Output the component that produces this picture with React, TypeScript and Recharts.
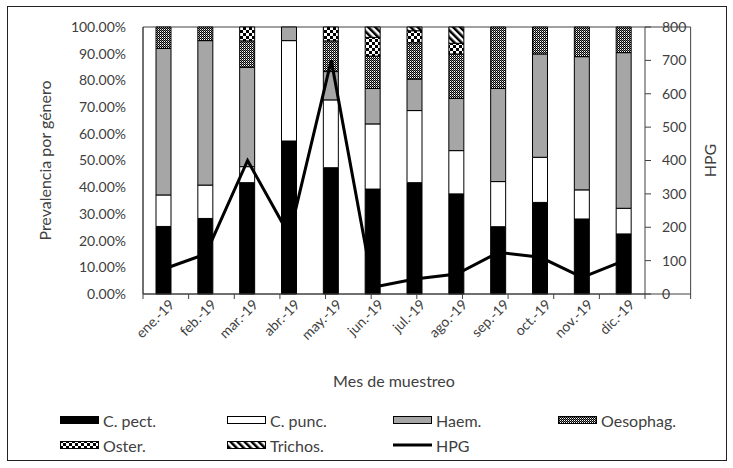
import React from 'react'
import {
  ComposedChart,
  Bar,
  Line,
  XAxis,
  YAxis,
  ReferenceArea,
} from 'recharts'

const meses = ['ene.-19', 'feb.-19', 'mar.-19', 'abr.-19', 'may.-19', 'jun.-19', 'jul.-19', 'ago.-19', 'sep.-19', 'oct.-19', 'nov.-19', 'dic.-19']
const cPect = [25.3, 28.3, 41.7, 57.3, 47.3, 39.3, 41.7, 37.5, 25.2, 34.3, 28.1, 22.5]
const cPunc = [11.8, 12.5, 6.0, 37.6, 25.4, 24.4, 27.0, 16.2, 16.9, 16.9, 10.9, 9.6]
const haem = [54.9, 54.1, 37.2, 5.1, 10.6, 13.3, 11.8, 19.6, 34.9, 38.7, 49.9, 58.3]
const oesophag = [8.0, 5.1, 9.9, 0, 11.5, 12.1, 13.6, 16.6, 23.0, 10.1, 11.1, 9.6]
const oster = [0, 0, 5.2, 0, 5.2, 7.0, 4.5, 4.0, 0, 0, 0, 0]
const trichos = [0, 0, 0, 0, 0, 3.9, 1.4, 6.1, 0, 0, 0, 0]
const hpg = [75, 120, 400, 175, 700, 20, 45, 60, 125, 110, 50, 100]

const pctTicks = [0, 10, 20, 30, 40, 50, 60, 70, 80, 90, 100]
const hpgTicks = [0, 100, 200, 300, 400, 500, 600, 700, 800]
const edgeTicks = [0, 1, 2, 3, 4, 5, 6, 7, 8, 9, 10, 11, 12]

const data = meses.map((mes, i) => ({
  mes,
  cPect: cPect[i],
  cPunc: cPunc[i],
  haem: haem[i],
  oesophag: oesophag[i],
  oster: oster[i],
  trichos: trichos[i],
  hpg: hpg[i],
}))

const FONT = 'Lato, "Noto Sans", sans-serif'
const TXT = '#404040'
const AX = '#404040'

function Patterns() {
  return (
    <svg width={0} height={0} style={{ position: 'absolute' }}>
      <defs>
        <pattern id="pOeso" width={2} height={2} patternUnits="userSpaceOnUse">
          <rect width={2} height={2} fill="#fff" />
          <rect x={0} y={0} width={1} height={1} fill="#000" />
          <rect x={1} y={1} width={1} height={1} fill="#000" />
          <rect x={1} y={0} width={1} height={1} fill="#777" />
        </pattern>
        <pattern id="pOster" width={6} height={6} patternUnits="userSpaceOnUse">
          <rect width={6} height={6} fill="#fff" />
          <rect x={0} y={0} width={3} height={3} fill="#000" />
          <rect x={3} y={3} width={3} height={3} fill="#000" />
        </pattern>
        <pattern id="pTrich" width={5} height={5} patternUnits="userSpaceOnUse" patternTransform="rotate(-45)">
          <rect width={5} height={5} fill="#fff" />
          <rect x={0} y={0} width={2.5} height={5} fill="#000" />
        </pattern>
      </defs>
    </svg>
  )
}

function MesTick({ x, y, payload }: any) {
  return (
    <text
      x={x + 8}
      y={y}
      transform={`rotate(-45, ${x + 8}, ${y})`}
      textAnchor="end"
      dy="0.35em"
      fontSize={14}
      fontFamily={FONT}
      fill={TXT}
    >
      {payload.value}
    </text>
  )
}

const legendItems = [
  { label: 'C. pect.', fill: '#000', x: 60, y: 420 },
  { label: 'C. punc.', fill: '#fff', x: 227, y: 420 },
  { label: 'Haem.', fill: '#a6a6a6', x: 393, y: 420 },
  { label: 'Oesophag.', fill: 'url(#pOeso)', x: 558, y: 420 },
  { label: 'Oster.', fill: 'url(#pOster)', x: 60, y: 445 },
  { label: 'Trichos.', fill: 'url(#pTrich)', x: 227, y: 445 },
  { label: 'HPG', fill: 'line', x: 393, y: 445 },
]

function Leyenda() {
  return (
    <>
      {legendItems.map((it) => (
        <div
          key={it.label}
          style={{
            position: 'absolute',
            left: it.x,
            top: it.y - 10,
            height: 20,
            display: 'flex',
            alignItems: 'center',
            fontFamily: FONT,
            fontSize: 16,
            color: TXT,
            whiteSpace: 'nowrap',
          }}
        >
          <svg width={40} height={10} style={{ marginRight: 3 }}>
            {it.fill === 'line' ? (
              <line x1={0} x2={39} y1={5} y2={5} stroke="#000" strokeWidth={3} />
            ) : (
              <rect x={0.5} y={1.5} width={38} height={7} fill={it.fill} stroke="#000" strokeWidth={1} />
            )}
          </svg>
          {it.label}
        </div>
      ))}
    </>
  )
}

export default function App() {
  return (
    <div style={{ position: 'relative', width: 733, height: 468, background: '#fff', overflow: 'hidden' }}>
      <style>{'body{margin:0}'}</style>
      <Patterns />
      <div
        style={{
          position: 'absolute',
          left: 7,
          top: 6,
          width: 720,
          height: 455,
          border: '1.5px solid #222',
          boxSizing: 'border-box',
        }}
      />
      <div style={{ position: 'absolute', left: 0, top: 0 }}>
        <ComposedChart
          width={733}
          height={468}
          data={data}
          margin={{ top: 27, right: 28, bottom: 114, left: 8 }}
          barCategoryGap={0}
        >
          <XAxis
            xAxisId="aEdge"
            type="number"
            domain={[0, 12]}
            ticks={edgeTicks}
            tickFormatter={() => ''}
            height={5}
            axisLine={{ stroke: AX }}
            tickLine={{ stroke: AX }}
            tickSize={5}
          />
          <XAxis
            xAxisId="cat"
            dataKey="mes"
            height={55}
            axisLine={false}
            tickLine={false}
            tickSize={0}
            tickMargin={3}
            interval={0}
            tick={<MesTick />}
            label={{
              content: ({ viewBox }: any) => (
                <text
                  x={viewBox.x + viewBox.width / 2}
                  y={viewBox.y + 88}
                  textAnchor="middle"
                  fontSize={16}
                  fontFamily={FONT}
                  fill={TXT}
                >
                  Mes de muestreo
                </text>
              ),
            }}
          />
          <YAxis
            yAxisId="left"
            orientation="left"
            width={135}
            domain={[0, 100]}
            ticks={pctTicks}
            tickFormatter={(v) => `${Number(v).toFixed(2)}%`}
            axisLine={{ stroke: AX }}
            tickLine={false}
            tickSize={0}
            tickMargin={17}
            tick={{ fontSize: 14, fontFamily: FONT, fill: TXT }}
            label={{
              content: ({ viewBox }: any) => {
                const cx = viewBox.x + 37
                const cy = viewBox.y + viewBox.height / 2
                return (
                  <text
                    x={cx}
                    y={cy}
                    transform={`rotate(-90, ${cx}, ${cy})`}
                    textAnchor="middle"
                    dy="0.35em"
                    fontSize={16}
                    fontFamily={FONT}
                    fill={TXT}
                  >
                    Prevalencia por género
                  </text>
                )
              },
            }}
          />
          <YAxis
            yAxisId="right"
            orientation="right"
            width={60}
            domain={[0, 800]}
            ticks={hpgTicks}
            axisLine={{ stroke: AX }}
            tickLine={{ stroke: AX }}
            tickSize={6}
            tickMargin={11}
            tick={{ fontSize: 14, fontFamily: FONT, fill: TXT, textAnchor: 'start' }}
            label={{
              content: ({ viewBox }: any) => {
                const cx = viewBox.x + 65
                const cy = viewBox.y + viewBox.height / 2
                return (
                  <text
                    x={cx}
                    y={cy}
                    transform={`rotate(-90, ${cx}, ${cy})`}
                    textAnchor="middle"
                    dy="0.35em"
                    fontSize={16}
                    fontFamily={FONT}
                    fill={TXT}
                  >
                    HPG
                  </text>
                )
              },
            }}
          />
          <ReferenceArea
            xAxisId="aEdge"
            yAxisId="left"
            x1={0}
            x2={12}
            y1={0}
            y2={100}
            fill="none"
            stroke={AX}
            strokeWidth={1}
            ifOverflow="visible"
          />
          <Bar xAxisId="cat" yAxisId="left" dataKey="cPect" stackId="s" barSize={15} fill="#000" stroke="#000" strokeWidth={1} isAnimationActive={false} />
          <Bar xAxisId="cat" yAxisId="left" dataKey="cPunc" stackId="s" barSize={15} fill="#fff" stroke="#000" strokeWidth={1} isAnimationActive={false} />
          <Bar xAxisId="cat" yAxisId="left" dataKey="haem" stackId="s" barSize={15} fill="#a6a6a6" stroke="#000" strokeWidth={1} isAnimationActive={false} />
          <Bar xAxisId="cat" yAxisId="left" dataKey="oesophag" stackId="s" barSize={15} fill="url(#pOeso)" stroke="#000" strokeWidth={1} isAnimationActive={false} />
          <Bar xAxisId="cat" yAxisId="left" dataKey="oster" stackId="s" barSize={15} fill="url(#pOster)" stroke="#000" strokeWidth={1} isAnimationActive={false} />
          <Bar xAxisId="cat" yAxisId="left" dataKey="trichos" stackId="s" barSize={15} fill="url(#pTrich)" stroke="#000" strokeWidth={1} isAnimationActive={false} />
          <Line
            xAxisId="cat"
            yAxisId="right"
            type="linear"
            dataKey="hpg"
            stroke="#000"
            strokeWidth={3}
            dot={false}
            activeDot={false}
            isAnimationActive={false}
          />
        </ComposedChart>
      </div>
      <Leyenda />
    </div>
  )
}
